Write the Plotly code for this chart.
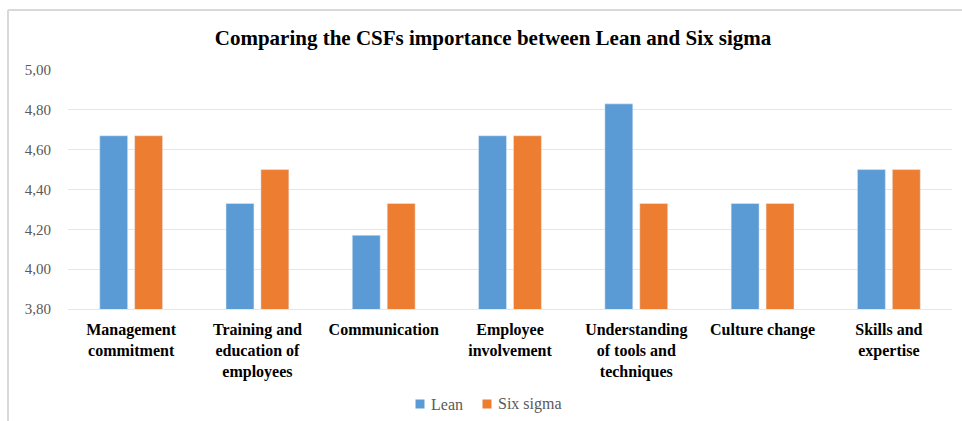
import plotly.graph_objects as go

categories = [
    "Management<br>commitment",
    "Training and<br>education of<br>employees",
    "Communication",
    "Employee<br>involvement",
    "Understanding<br>of tools and<br>techniques",
    "Culture change",
    "Skills and<br>expertise",
]
lean = [4.67, 4.33, 4.17, 4.67, 4.83, 4.33, 4.50]
six_sigma = [4.67, 4.50, 4.33, 4.67, 4.33, 4.33, 4.50]
y_ticks = [3.80, 4.00, 4.20, 4.40, 4.60, 4.80, 5.00]
series_names = ["Lean", "Six sigma"]
series_colors = ["#5b9bd5", "#ed7d31"]

W, H = 962, 421
ML, MR, MT, MB = 68, 10, 70, 112
pw = W - ML - MR
ph = H - MT - MB
SERIF = "Liberation Serif, Times New Roman, serif"

fig = go.Figure()
for name, vals, col in zip(series_names, [lean, six_sigma], series_colors):
    fig.add_trace(go.Bar(name=name, x=categories, y=vals, marker_color=col, showlegend=False))

# outer frame (partial, as in the reference crop)
fx0 = (8 - ML) / pw
fy0 = 1 + (MT - 10) / ph
fig.add_shape(type="line", xref="paper", yref="paper", x0=fx0, x1=fx0, y0=-2, y1=fy0,
              line=dict(color="#d9d9d9", width=2))
fig.add_shape(type="line", xref="paper", yref="paper", x0=fx0, x1=2, y0=fy0, y1=fy0,
              line=dict(color="#d9d9d9", width=2))

# manual legend
leg_y = -(404 - 309) / ph
leg_x = [(420 - ML) / pw, (487 - ML) / pw]
for name, col, lx in zip(series_names, series_colors, leg_x):
    fig.add_shape(type="rect", xref="paper", yref="paper",
                  x0=lx - 4.5 / pw, x1=lx + 4.5 / pw, y0=leg_y - 4.5 / ph, y1=leg_y + 4.5 / ph,
                  fillcolor=col, line=dict(width=0))
    fig.add_annotation(text=name, xref="paper", yref="paper", x=lx + 9 / pw, y=leg_y,
                       xanchor="left", yanchor="middle", showarrow=False,
                       font=dict(family=SERIF, size=16, color="#595959"))

fig.update_layout(
    width=W, height=H,
    margin=dict(l=ML, r=MR, t=MT, b=MB),
    paper_bgcolor="white", plot_bgcolor="white",
    separators=",.",
    barmode="group", bargap=0.447, bargroupgap=0.2,
    title=dict(text="<b>Comparing the CSFs importance between Lean and Six sigma</b>",
               xref="container", x=493 / W, xanchor="center", y=1 - 38 / H, yanchor="middle",
               font=dict(family=SERIF, size=21, color="#000000")),
    font=dict(family=SERIF),
    showlegend=False,
    yaxis=dict(range=[3.8, 5.0], tickvals=y_ticks, tickformat=".2f",
               showgrid=True, gridcolor="#e6e6e6", gridwidth=1, zeroline=False,
               showline=False, ticks="", ticklabelstandoff=16, automargin=False,
               tickfont=dict(family=SERIF, size=15, color="#595959")),
    xaxis=dict(showline=True, linecolor="#e6e6e6", linewidth=1, ticks="",
               tickangle=0, automargin=False, ticklabelstandoff=6,
               tickvals=categories, ticktext=["<b>" + c + "</b>" for c in categories],
               tickfont=dict(family=SERIF, size=16, color="#000000")),
)
fig.write_html("out.html")
